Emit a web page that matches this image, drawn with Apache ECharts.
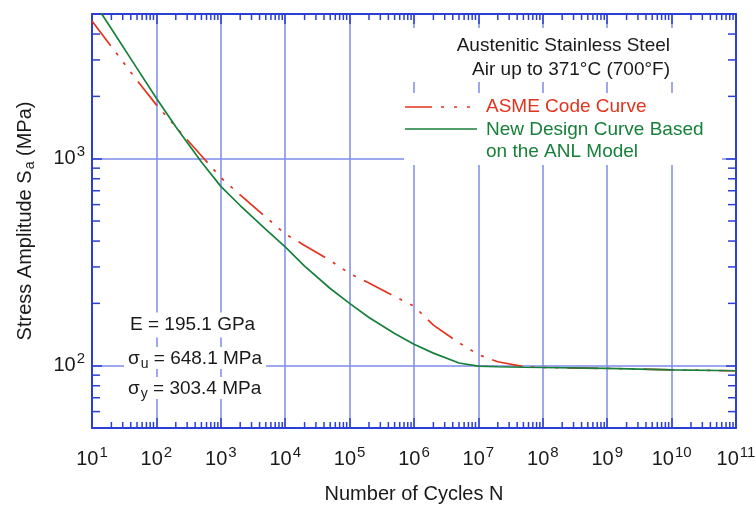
<!DOCTYPE html>
<html>
<head>
<meta charset="utf-8">
<script src="https://cdn.jsdelivr.net/npm/echarts@6/dist/echarts.min.js"></script>
<style>html,body{margin:0;padding:0;background:#fff}#c{width:756px;height:505px}</style>
</head>
<body>
<div id="c"></div>
<script>
// ---- data ----
const cycles = [10, 20, 50, 100, 200, 500, 1e3, 2e3, 5e3, 1e4, 2e4, 5e4, 1e5, 2e5, 5e5, 1e6, 2e6, 5e6, 1e7, 2e7, 5e7, 1e8, 1e9, 1e10, 1e11];
const asmeCode  = [4630, 3480, 2390, 1820, 1423, 1033, 811, 668, 522, 433, 381, 322, 279, 251, 216, 194, 157, 129, 113, 104.5, 99, 98, 97, 95.5, 94.5];
const anlDesign = [5900, 4240, 2730, 1958, 1425, 964, 735, 594, 455, 375, 303, 236, 200, 171, 143, 127, 115, 103, 99.5, 98.8, 98.3, 98, 97, 95.5, 94.5];
const xDecades = [10, 100, 1e3, 1e4, 1e5, 1e6, 1e7, 1e8, 1e9, 1e10];
const minorMultipliers = [2, 3, 4, 5, 6, 7, 8, 9];
const yMinorTicks = [60, 70, 80, 90, 200, 300, 400, 500, 600, 700, 800, 900, 2000, 3000, 4000];
const seriesNames = ['ASME Code Curve', 'New Design Curve Based on the ANL Model'];
const titleLines = ['Austenitic Stainless Steel', 'Air up to 371°C (700°F)'];
const materialProps = ['E = 195.1 GPa', '648.1 MPa', '303.4 MPa'];

// ---- styling ----
const FONT = '"Liberation Sans", Arial, Helvetica, sans-serif';
const AXIS = '#2b3fd4';
const GRIDC = '#7e8bea';
const RED = '#e2341d';
const GREEN = '#17803a';
const TXT = '#1a1a1a';

const xMinorTicks = [];
xDecades.forEach(d => minorMultipliers.forEach(m => xMinorTicks.push(d * m)));

function powLabel(val) {
  const l = Math.log10(val);
  const e = Math.round(l);
  if (Math.abs(l - e) > 1e-6) return '';
  return '{b|10}{e|' + e + '}';
}
const labelRich = {
  b: {fontSize: 20, lineHeight: 21, fontFamily: FONT, color: TXT},
  e: {fontSize: 15, lineHeight: 15, padding: [0, 0, 14, 1], fontFamily: FONT, color: TXT}
};

function minorTicks(values, dir) {
  return {
    type: 'custom', silent: true, z: 5, clip: false,
    data: values.map(v => dir === 'x' ? [v, 100] : [100, v]),
    renderItem: function (params, api) {
      const cs = params.coordSys;
      const st = {stroke: AXIS, lineWidth: 1.5};
      if (dir === 'x') {
        const px = api.coord([api.value(0), 100])[0];
        const b = cs.y + cs.height;
        return {type: 'group', children: [
          {type: 'line', shape: {x1: px, y1: b, x2: px, y2: b - 6}, style: st},
          {type: 'line', shape: {x1: px, y1: cs.y, x2: px, y2: cs.y + 6}, style: st}
        ]};
      }
      const py = api.coord([100, api.value(1)])[1];
      const r = cs.x + cs.width;
      return {type: 'group', children: [
        {type: 'line', shape: {x1: cs.x, y1: py, x2: cs.x + 8, y2: py}, style: st},
        {type: 'line', shape: {x1: r, y1: py, x2: r - 8, y2: py}, style: st}
      ]};
    }
  };
}

const axisLineCfg = {show: true, lineStyle: {color: AXIS, width: 2}};
const tickCfg = {show: true, inside: true, length: 10, lineStyle: {color: AXIS, width: 1.5}};

const chart = echarts.init(document.getElementById('c'), null, {renderer: 'canvas'});
chart.setOption({
  animation: false,
  backgroundColor: '#fff',
  grid: {left: 92, right: 20, top: 14, bottom: 77, containLabel: false, outerBoundsMode: 'none'},
  xAxis: [{
    type: 'log', logBase: 10, min: 10, max: 1e11, interval: 1,
    position: 'bottom',
    axisLine: axisLineCfg, axisTick: tickCfg,
    splitLine: {show: true, lineStyle: {color: GRIDC, width: 1.5}},
    axisLabel: {formatter: powLabel, rich: labelRich, margin: 21, color: TXT},
    name: 'Number of Cycles N', nameLocation: 'middle', nameGap: 56,
    nameTextStyle: {fontSize: 20, fontFamily: FONT, color: TXT}
  }, {
    type: 'log', logBase: 10, min: 10, max: 1e11, interval: 1,
    position: 'top',
    axisLine: axisLineCfg, axisTick: tickCfg,
    splitLine: {show: false}, axisLabel: {show: false}
  }],
  yAxis: [{
    type: 'log', logBase: 10, min: 50, max: 5000,
    position: 'left',
    axisLine: axisLineCfg, axisTick: tickCfg,
    splitLine: {show: true, lineStyle: {color: GRIDC, width: 1.5}},
    axisLabel: {formatter: powLabel, rich: labelRich, margin: 7, color: TXT, showMinLabel: false, showMaxLabel: false},
    name: '{t|Stress Amplitude S}{s|a}{t| (MPa)}', nameLocation: 'middle', nameRotate: 90, nameGap: 56,
    nameTextStyle: {rich: {
      t: {fontSize: 20, fontFamily: FONT, color: TXT, lineHeight: 22},
      s: {fontSize: 14, fontFamily: FONT, color: TXT, lineHeight: 14, padding: [10, 0, 0, 1]}
    }}
  }, {
    type: 'log', logBase: 10, min: 50, max: 5000,
    position: 'right',
    axisLine: axisLineCfg, axisTick: tickCfg,
    splitLine: {show: false}, axisLabel: {show: false}
  }],
  series: [
    {
      name: seriesNames[0], type: 'line', showSymbol: false, z: 3,
      data: cycles.map((c, i) => [c, asmeCode[i]]),
      lineStyle: {color: RED, width: 1.7, type: [31, 9, 3, 9, 3, 9, 3, 9]}
    },
    {
      name: seriesNames[1], type: 'line', showSymbol: false, z: 4,
      data: cycles.map((c, i) => [c, anlDesign[i]]),
      lineStyle: {color: GREEN, width: 1.7}
    },
    minorTicks(xMinorTicks, 'x'),
    minorTicks(yMinorTicks, 'y')
  ],
  graphic: {elements: [
    {type: 'rect', z: 100, shape: {x: 404, y: 28, width: 318, height: 54}, style: {fill: '#fff'}},
    {type: 'rect', z: 100, shape: {x: 404, y: 93, width: 318, height: 72}, style: {fill: '#fff'}},
    {type: 'text', z: 101, x: 670, y: 46, style: {text: titleLines[0], fill: TXT, fontSize: 19, fontFamily: FONT, align: 'right', verticalAlign: 'middle'}},
    {type: 'text', z: 101, x: 670, y: 70, style: {text: titleLines[1], fill: TXT, fontSize: 19, fontFamily: FONT, align: 'right', verticalAlign: 'middle'}},
    {type: 'line', z: 101, shape: {x1: 405, y1: 107, x2: 477, y2: 107}, style: {stroke: RED, lineWidth: 1.7, lineDash: [27, 9, 3, 10, 3, 10, 3, 10]}},
    {type: 'text', z: 101, x: 486, y: 107, style: {text: seriesNames[0], fill: RED, fontSize: 19, fontFamily: FONT, verticalAlign: 'middle'}},
    {type: 'line', z: 101, shape: {x1: 405, y1: 129, x2: 477, y2: 129}, style: {stroke: GREEN, lineWidth: 1.7}},
    {type: 'text', z: 101, x: 486, y: 130, style: {text: 'New Design Curve Based', fill: GREEN, fontSize: 19, fontFamily: FONT, verticalAlign: 'middle'}},
    {type: 'text', z: 101, x: 486, y: 152, style: {text: 'on the ANL Model', fill: GREEN, fontSize: 19, fontFamily: FONT, verticalAlign: 'middle'}},
    {type: 'text', z: 101, x: 126, y: 325, style: {text: materialProps[0], fill: TXT, fontSize: 19, fontFamily: FONT, verticalAlign: 'middle', backgroundColor: '#fff', padding: [3, 4, 3, 4]}},
    {type: 'text', z: 101, x: 124, y: 358, style: {
      text: '{t|σ}{s|u}{t| = ' + materialProps[1] + '}', verticalAlign: 'middle', backgroundColor: '#fff', padding: [2, 4, 0, 4],
      rich: {t: {fontSize: 19, fontFamily: FONT, fill: TXT, lineHeight: 20}, s: {fontSize: 14, fontFamily: FONT, fill: TXT, lineHeight: 14, padding: [10, 0, 0, 1]}}
    }},
    {type: 'text', z: 101, x: 124, y: 388, style: {
      text: '{t|σ}{s|y}{t| = ' + materialProps[2] + '}', verticalAlign: 'middle', backgroundColor: '#fff', padding: [2, 4, 0, 4],
      rich: {t: {fontSize: 19, fontFamily: FONT, fill: TXT, lineHeight: 20}, s: {fontSize: 14, fontFamily: FONT, fill: TXT, lineHeight: 14, padding: [10, 0, 0, 1]}}
    }}
  ]}
});
</script>
</body>
</html>
